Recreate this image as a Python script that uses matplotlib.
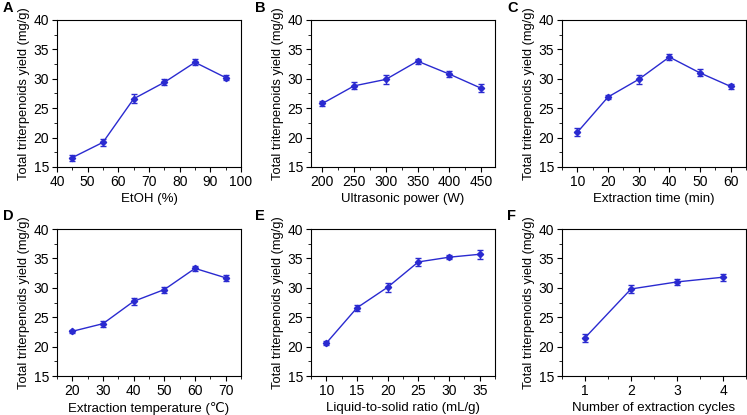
import numpy as np
import matplotlib
matplotlib.use('Agg')
import matplotlib.pyplot as plt
from matplotlib.ticker import MultipleLocator

plt.rcParams['font.family'] = ['Liberation Sans', 'DejaVu Sans']

# panel data (x, mean, sd)
etoh = [45, 55, 65, 75, 85, 95]
etoh_y = [16.6, 19.2, 26.6, 29.4, 32.8, 30.2]
etoh_e = [0.5, 0.6, 0.8, 0.5, 0.5, 0.4]

power = [200, 250, 300, 350, 400, 450]
power_y = [25.8, 28.8, 29.9, 33.0, 30.8, 28.4]
power_e = [0.5, 0.6, 0.8, 0.4, 0.5, 0.7]

time_min = [10, 20, 30, 40, 50, 60]
time_y = [20.9, 26.9, 29.9, 33.7, 31.0, 28.7]
time_e = [0.7, 0.4, 0.7, 0.5, 0.6, 0.4]

temp = [20, 30, 40, 50, 60, 70]
temp_y = [22.6, 23.9, 27.7, 29.7, 33.3, 31.7]
temp_e = [0.3, 0.5, 0.6, 0.5, 0.4, 0.5]

ratio = [10, 15, 20, 25, 30, 35]
ratio_y = [20.6, 26.6, 30.1, 34.4, 35.2, 35.7]
ratio_e = [0.4, 0.5, 0.8, 0.7, 0.3, 0.8]

cycles = [1, 2, 3, 4]
cycles_y = [21.5, 29.8, 31.0, 31.8]
cycles_e = [0.7, 0.7, 0.5, 0.6]

panels = [
    ('A', etoh, etoh_y, etoh_e, 'EtOH (%)', (40, 100), 10),
    ('B', power, power_y, power_e, 'Ultrasonic power (W)', (182, 472), 50),
    ('C', time_min, time_y, time_e, 'Extraction time (min)', (5, 65), 10),
    ('D', temp, temp_y, temp_e, 'Extraction temperature (\u2103)', (15, 75), 10),
    ('E', ratio, ratio_y, ratio_e, 'Liquid-to-solid ratio (mL/g)', (7.5, 37.5), 5),
    ('F', cycles, cycles_y, cycles_e, 'Number of extraction cycles', (0.5, 4.5), 1),
]

W, H = 747, 415
fig = plt.figure(figsize=(W / 100, H / 100), dpi=100)

lefts = [57, 311, 562]
tops = [20, 229]
aw, ah = 184, 147
lab_x = [3, 255, 507]
lab_y = [8, 216]
blue = '#2a2ad0'

for i, (lab, x, y, e, xl, xlim, step) in enumerate(panels):
    r, c = divmod(i, 3)
    ax = fig.add_axes([lefts[c] / W, 1 - (tops[r] + ah) / H, aw / W, ah / H])
    ax.errorbar(x, y, yerr=e, color=blue, marker='D', ms=3.2, lw=1.0,
                capsize=2, elinewidth=1, capthick=1)
    ax.set_xlim(*xlim)
    ax.set_ylim(15, 40)
    ax.xaxis.set_major_locator(MultipleLocator(step))
    ax.xaxis.set_minor_locator(MultipleLocator(step / 2))
    ax.yaxis.set_major_locator(MultipleLocator(5))
    ax.yaxis.set_minor_locator(MultipleLocator(2.5))
    ax.tick_params(which='major', direction='out', length=3.5, width=0.8, labelsize=10, pad=2)
    ax.tick_params(which='minor', direction='out', length=2, width=0.6)
    for s in ax.spines.values():
        s.set_linewidth(0.8)
    ax.set_xlabel(xl, fontsize=9.5, labelpad=3)
    ax.set_ylabel('Total triterpenoids yield (mg/g)', fontsize=9.3, labelpad=3)
    fig.text(lab_x[c] / W, 1 - lab_y[r] / H, lab, fontsize=10.5, fontweight='bold',
             ha='left', va='center')

fig.savefig('out.png', dpi=100)
